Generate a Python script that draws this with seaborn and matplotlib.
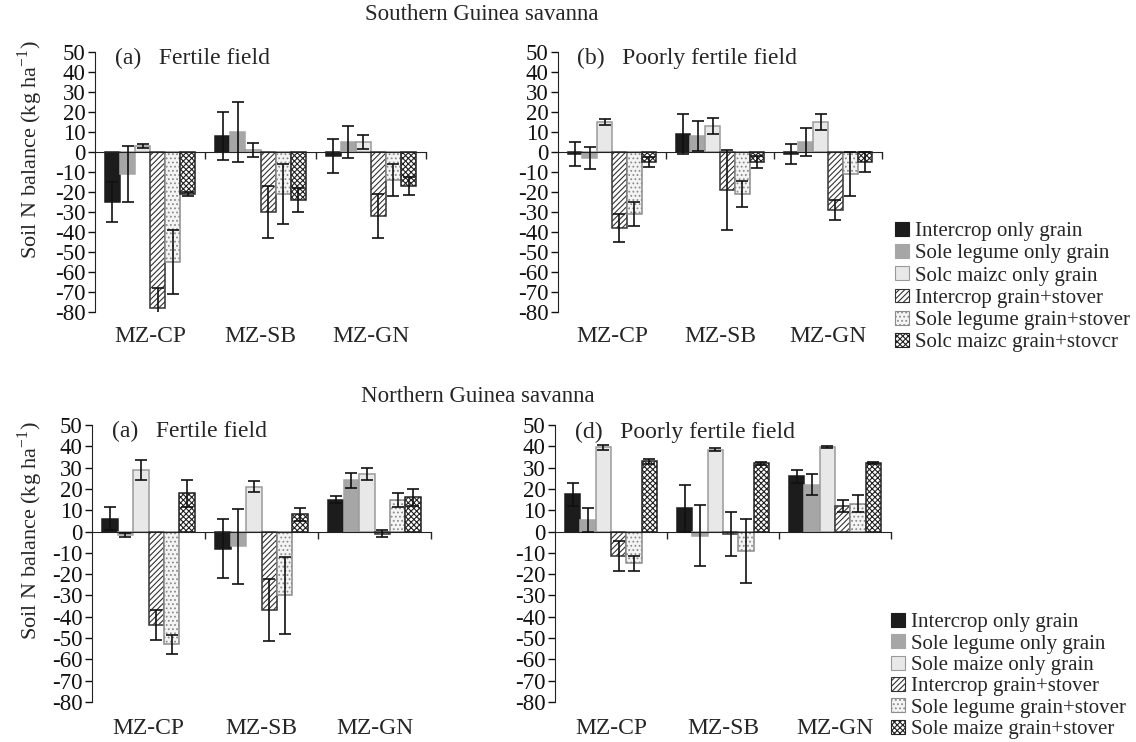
import numpy as np
import pandas as pd
import matplotlib
matplotlib.use("Agg")
import matplotlib.pyplot as plt
from matplotlib.patches import Patch
import seaborn as sns

# ===================== Data =====================
crops = ["MZ-CP", "MZ-SB", "MZ-GN"]
treatments = ["Intercrop only grain", "Sole legume only grain", "Sole maize only grain",
              "Intercrop grain+stover", "Sole legume grain+stover", "Sole maize grain+stover"]

# legend text as printed in each block of the figure
legend_south = ["Intercrop only grain", "Sole legume only grain", "Solc maizc only grain",
                "Intercrop grain+stover", "Sole legume grain+stover", "Solc maizc grain+stovcr"]
legend_north = ["Intercrop only grain", "Sole legume only grain", "Sole maize only grain",
                "Intercrop grain+stover", "Sole legume grain+stover", "Sole maize grain+stover"]

# rows = treatments, cols = crops (MZ-CP, MZ-SB, MZ-GN)
sgs_fertile = [[-25, 8, -2], [-11, 10, 5], [3, 1, 5],
               [-78, -30, -32], [-55, -21, -14], [-21, -24, -17]]
sgs_fertile_se = [[10, 12, 8.5], [14, 15, 8], [1, 3.5, 3.5],
                  [10, 13, 11], [16, 15, 8], [1, 6, 4.5]]

sgs_poor = [[-1, 9, -1], [-3, 8, 5], [15, 13, 15],
            [-38, -19, -29], [-31, -21, -11], [-5, -5, -5]]
sgs_poor_se = [[6, 10, 5], [5.5, 7.5, 7], [1.5, 4, 4],
               [7, 20, 5], [6, 6.5, 11], [2.5, 3, 5]]

ngs_fertile = [[6, -8, 15], [-1.5, -7, 24], [29, 21, 27],
               [-44, -37, -1], [-53, -30, 15], [18, 8, 16]]
ngs_fertile_se = [[5.5, 14, 1.8], [1, 17.5, 3.5], [4.8, 2.6, 3],
                  [7, 14.5, 1.5], [4.3, 18, 3.3], [6.3, 3.2, 4]]

ngs_poor = [[17.5, 11, 26], [5.5, -2, 22], [39.5, 38.5, 39.5],
            [-11.5, -1, 12], [-15, -9, 13], [33, 32, 32]]
ngs_poor_se = [[5.5, 11, 3], [5.5, 14.3, 5], [1, 0.5, 0.5],
               [7, 10.3, 3], [3.7, 15, 4], [1.1, 0.7, 0.5]]

# ===================== Styles =====================
styles = {
    treatments[0]: dict(fc="#1c1c1c", ec="#1c1c1c", hatch=None),
    treatments[1]: dict(fc="#a6a6a6", ec="#a6a6a6", hatch=None),
    treatments[2]: dict(fc="#e8e8e8", ec="#9a9a9a", hatch=None),
    treatments[3]: dict(fc="white", ec="#333333", hatch="//////"),
    treatments[4]: dict(fc="#f4f4f4", ec="#8c8c8c", hatch="...."),
    treatments[5]: dict(fc="white", ec="#222222", hatch="xxxxxx"),
}

sns.set_style("white")
plt.rcParams["font.family"] = ["Liberation Serif", "DejaVu Serif"]
plt.rcParams["hatch.linewidth"] = 0.8
plt.rcParams["axes.unicode_minus"] = False
plt.rcParams["mathtext.fontset"] = "custom"
plt.rcParams["mathtext.rm"] = "Liberation Serif"

W, H = 1136, 742
fig = plt.figure(figsize=(W / 100, H / 100), dpi=100)


def px_axes(x0, x1, ytop, ybot):
    return fig.add_axes([x0 / W, 1 - ybot / H, (x1 - x0) / W, (ybot - ytop) / H])


def to_frame(means, ses):
    rows = []
    for t, mrow, srow in zip(treatments, means, ses):
        for c, m, s in zip(crops, mrow, srow):
            rows.append(dict(crop=c, treatment=t, value=m, se=s))
    return pd.DataFrame(rows)


def draw_panel(ax, means, ses, title):
    df = to_frame(means, ses)
    palette = {t: styles[t]["fc"] for t in treatments}
    sns.barplot(data=df, x="crop", y="value", hue="treatment", order=crops,
                hue_order=treatments, palette=palette, errorbar=None,
                width=0.82, legend=False, ax=ax, saturation=1)
    for cont, t in zip(ax.containers, treatments):
        st = styles[t]
        sub = df[df.treatment == t].set_index("crop").loc[crops]
        for p, (_, r) in zip(cont.patches, sub.iterrows()):
            p.set_facecolor(st["fc"])
            p.set_edgecolor(st["ec"])
            p.set_linewidth(1.1)
            if st["hatch"]:
                p.set_hatch(st["hatch"])
            xc = p.get_x() + p.get_width() / 2
            ax.errorbar(xc, r["value"], yerr=r["se"], fmt="none", ecolor="#111111",
                        elinewidth=1.2, capsize=4, capthick=1.2, zorder=5)
    ax.set_ylim(-80, 50)
    ax.set_xlim(-0.5, 2.5)
    ax.set_yticks(np.arange(-80, 51, 10))
    ax.set_xticks([0.5, 1.5, 2.5])
    ax.set_xticklabels([])
    ax.set_xlabel("")
    ax.set_ylabel("")
    for s in ["top", "right"]:
        ax.spines[s].set_visible(False)
    ax.spines["bottom"].set_position(("data", 0))
    ax.spines["bottom"].set_color("#222222")
    ax.spines["left"].set_color("#222222")
    ax.tick_params(axis="y", direction="out", length=5, width=1, labelsize=16.5,
                   pad=2, colors="#111111", left=True)
    ax.tick_params(axis="x", direction="out", length=5, width=1, bottom=True)
    for i, c in enumerate(crops):
        ax.text(i, -0.095, c, transform=ax.get_xaxis_transform(),
                ha="center", va="center", fontsize=17)
    ax.text(0.06, 0.975, title, transform=ax.transAxes, ha="left", va="center",
            fontsize=17)


ax1 = px_axes(95, 426, 52, 312)
draw_panel(ax1, sgs_fertile, sgs_fertile_se, "(a)   Fertile field")
ax2 = px_axes(558, 882, 52, 312)
draw_panel(ax2, sgs_poor, sgs_poor_se, "(b)   Poorly fertile field")
ax3 = px_axes(92, 431, 425, 702)
draw_panel(ax3, ngs_fertile, ngs_fertile_se, "(a)   Fertile field")
ax4 = px_axes(555, 891, 425, 702)
draw_panel(ax4, ngs_poor, ngs_poor_se, "(d)   Poorly fertile field")

ylab = "Soil N balance (kg ha$^{-1}$)"
fig.text(30 / W, 1 - 150 / H, ylab, rotation=90, ha="center", va="center", fontsize=16)
fig.text(30 / W, 1 - 531 / H, ylab, rotation=90, ha="center", va="center", fontsize=16)

fig.text(482 / W, 1 - 14 / H, "Southern Guinea savanna", ha="center", va="center", fontsize=16.5)
fig.text(478 / W, 1 - 397 / H, "Northern Guinea savanna", ha="center", va="center", fontsize=16.5)


def handles():
    out = []
    for t in treatments:
        st = styles[t]
        out.append(Patch(facecolor=st["fc"], edgecolor=st["ec"], hatch=st["hatch"], linewidth=0.8))
    return out


leg_kw = dict(loc="upper left", frameon=False, fontsize=15, handlelength=0.65,
              handleheight=0.65, handletextpad=0.3, borderaxespad=0, borderpad=0)
fig.legend(handles(), legend_south, bbox_to_anchor=(895 / W, 1 - 222 / H),
           labelspacing=0.14, **leg_kw)
fig.legend(handles(), legend_north, bbox_to_anchor=(891 / W, 1 - 613 / H),
           labelspacing=0.1, **leg_kw)

fig.savefig("out.png", dpi=100)
